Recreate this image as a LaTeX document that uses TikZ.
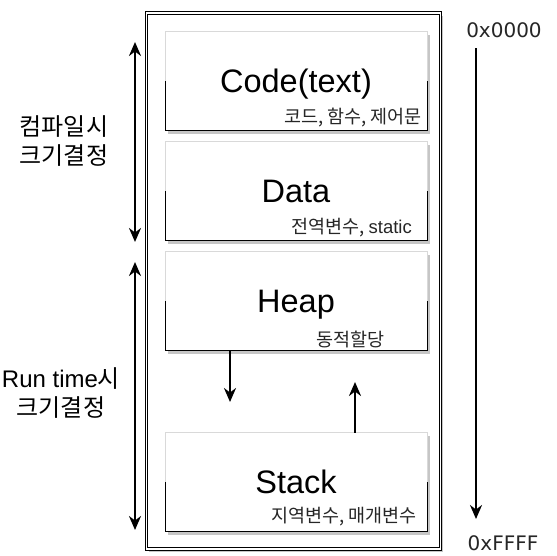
\documentclass[tikz,border=0pt]{standalone}
\usepackage{fontspec}
\setmainfont{Liberation Sans}
\newfontfamily\kr{Noto Sans CJK KR}
\newfontfamily\hexfont{DejaVu Sans}
\usetikzlibrary{arrows.meta,positioning,shadows}
\tikzset{
  frame/.style={rectangle,draw=black,fill=white,line width=0.8pt,double=white,double distance=1.6pt,
    minimum width=294pt,minimum height=536pt,inner sep=0,outer sep=0,
    drop shadow={shadow xshift=2.5pt,shadow yshift=-2.5pt,fill=gray!45,opacity=1}},
  segment/.style={rectangle,draw=gray!30,fill=white,minimum width=262pt,minimum height=99pt,
    inner sep=0,outer sep=0,text height=23pt,text depth=0pt,font=\fontsize{32.5}{32.5}\selectfont,
    drop shadow={shadow xshift=3pt,shadow yshift=-3pt,fill=gray!45,opacity=1}},
  dark edge/.style={draw=black,line width=0.8pt},
  seg note/.style={font=\kr\fontsize{18.5}{18.5}\selectfont,text=black!85,anchor=east,inner sep=0},
  side note/.style={font=\fontsize{24}{29}\selectfont,align=center,inner sep=0},
  addr/.style={font=\hexfont\fontsize{20}{20}\selectfont,text=black!85,inner sep=0},
  connect/.style={-{Stealth[length=14pt,width=12pt]},line width=2.6pt},
  both ways/.style={{Stealth[length=14pt,width=12pt]}-{Stealth[length=14pt,width=12pt]},line width=2.6pt}
}
\begin{document}
\begin{tikzpicture}[x=1pt,y=-1pt]
    \useasboundingbox (0,0) rectangle (557,555);
    % Memory frame and segments
    \node[frame] (mem) at (293.5,281) {};
    \node[segment] (code)  at (296,81)  {Code(text)};
    \node[segment] (data)  at (296,191) {Data};
    \node[segment] (heap)  at (296,301) {Heap};
    \node[segment] (stack) at (296,482) {Stack};
    \foreach \s in {code,data,heap,stack} \draw[dark edge] (\s.west) |- (\s.south east) -- (\s.east);
    % Notes inside segments
    \node[seg note] (code note)  at ([xshift=-5pt,yshift=13pt]code.south east)   {코드, 함수, 제어문};
    \node[seg note] (data note)  at ([xshift=-15pt,yshift=13pt]data.south east)  {전역변수, {\setmainfont{Liberation Sans}\rmfamily static}};
    \node[seg note] (heap note)  at ([xshift=-42pt,yshift=11pt]heap.south east)  {동적할당};
    \node[seg note] (stack note) at ([xshift=-10pt,yshift=15pt]stack.south east) {지역변수, 매개변수};
    % Growth of heap and stack
    \coordinate (heap end)  at (230,402);
    \coordinate (stack end) at (355,382);
    \draw[connect] (heap.south -| heap end) -- (heap end);
    \draw[connect] (stack.north -| stack end) -- (stack end);
    % Size fixed when
    \coordinate (ct top) at (135,42);
    \coordinate (ct bot) at (135,242);
    \coordinate (rt top) at (135,262);
    \coordinate (rt bot) at (135,530);
    \draw[both ways] (ct top) -- (ct bot);
    \draw[both ways] (rt top) -- (rt bot);
    \node[side note,font=\kr\fontsize{24}{29}\selectfont] (ct label) at (64,141) {컴파일시\\크기결정};
    \node[side note] (rt label) at (61,393) {Run time{\kr 시}\\{\kr 크기결정}};
    % Addresses
    \node[addr] (low)  at (504,30)  {0x0000};
    \node[addr] (high) at (503,543) {0xFFFF};
    \coordinate (addr top) at (476,48);
    \coordinate (addr bot) at (476,519);
    \draw[connect] (addr top) -- (addr bot);
\end{tikzpicture}
\end{document}
